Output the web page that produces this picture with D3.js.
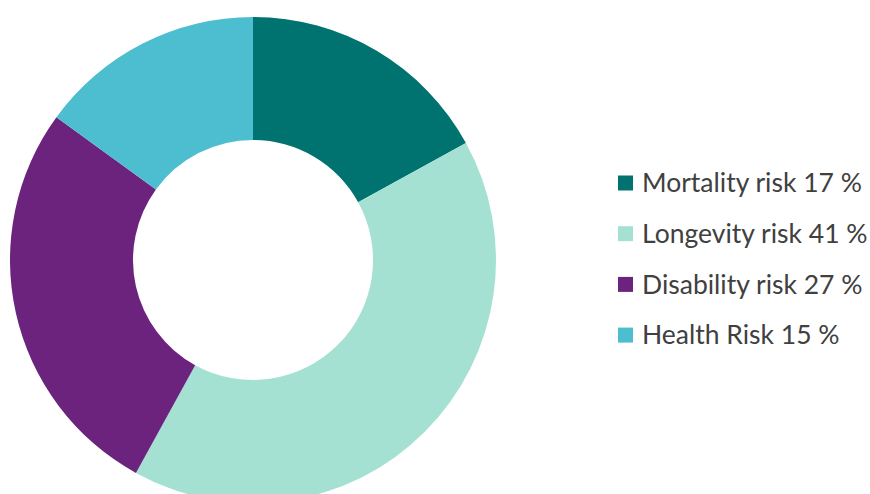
<!DOCTYPE html>
<html>
<head>
<meta charset="utf-8">
<script src="https://cdn.jsdelivr.net/npm/d3@7"></script>
<style>
  body { margin: 0; background: #fff; }
  svg { display: block; }
</style>
</head>
<body>
<div id="chart"></div>
<script>
var svgWidth = 870;
var svgHeight = 494;

// data
var categories = ["Mortality risk", "Longevity risk", "Disability risk", "Health Risk"];
var shares = [17, 41, 27, 15];
var colors = ["#007370", "#a5e1d3", "#6b237e", "#4dbdd0"];

var data = categories.map(function(c, i) {
  return { name: c, value: shares[i], color: colors[i] };
});

var svg = d3.select("#chart")
  .append("svg")
  .attr("width", svgWidth)
  .attr("height", svgHeight);

var outerR = 243;
var innerR = 120;

var pieGroup = svg.append("g")
  .attr("transform", "translate(253, 260)");

var pie = d3.pie()
  .sort(null)
  .value(d => d.value);

var arc = d3.arc()
  .innerRadius(innerR)
  .outerRadius(outerR);

pieGroup.selectAll("path")
  .data(pie(data))
  .enter()
  .append("path")
  .attr("d", arc)
  .attr("fill", d => d.data.color);

// legend
var legend = svg.append("g")
  .attr("transform", "translate(618, 183)");

var rows = legend.selectAll("g")
  .data(data)
  .enter()
  .append("g")
  .attr("transform", (d, i) => `translate(0, ${i * 50.7})`);

rows.append("rect")
  .attr("x", 0)
  .attr("y", -7.5)
  .attr("width", 15)
  .attr("height", 15)
  .attr("fill", d => d.color);

rows.append("text")
  .attr("x", 24)
  .attr("y", 0)
  .attr("dy", "0.35em")
  .attr("font-family", "Lato, 'Open Sans', sans-serif")
  .attr("font-size", "26.5px")
  .attr("fill", "#404040")
  .text(d => `${d.name} ${d.value} %`);
</script>
</body>
</html>
